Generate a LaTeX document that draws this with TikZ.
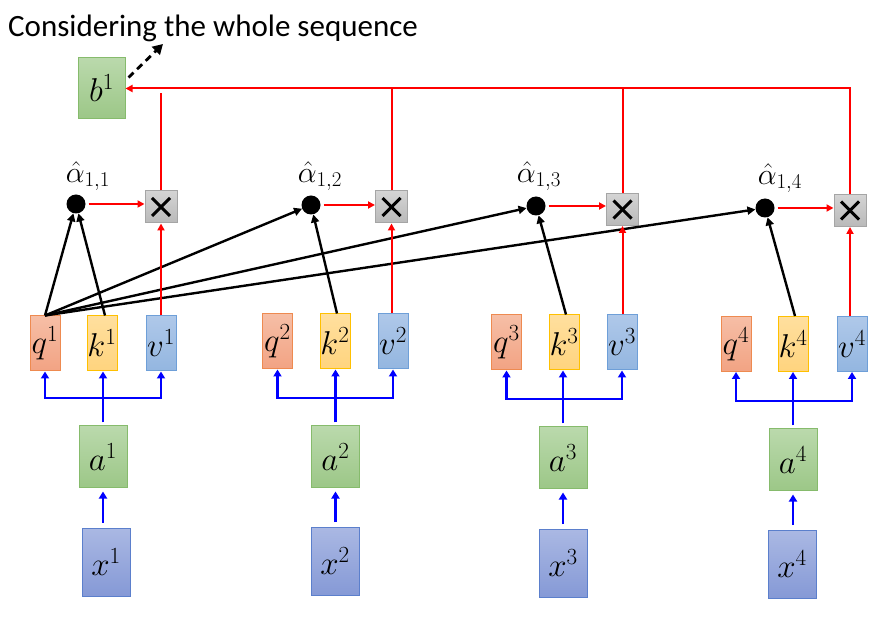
\RequirePackage{fix-cm}
\documentclass[tikz,border=0pt]{standalone}
\usepackage{fontspec}
\newfontfamily\titlefont{Carlito}
\usetikzlibrary{arrows.meta}
\definecolor{qT}{HTML}{F6BEA6}\definecolor{qBt}{HTML}{F2A383}\definecolor{qD}{HTML}{EE8A50}
\definecolor{kT}{HTML}{FFDF9E}\definecolor{kBt}{HTML}{FFD47E}\definecolor{kD}{HTML}{FFC000}
\definecolor{vT}{HTML}{AFC8E9}\definecolor{vBt}{HTML}{93B6E0}\definecolor{vD}{HTML}{6E9FD8}
\definecolor{aT}{HTML}{BAD9AC}\definecolor{aBt}{HTML}{9CC787}\definecolor{aD}{HTML}{86BB6C}
\definecolor{xT}{HTML}{AAB8E3}\definecolor{xBt}{HTML}{8599D6}\definecolor{xD}{HTML}{5B7FCC}
\definecolor{gT}{HTML}{D4D4D4}\definecolor{gBt}{HTML}{B9B9B9}\definecolor{gD}{HTML}{A5A5A5}
\tikzset{
  bx/.style={draw, line width=1pt, inner sep=0pt, font=\fontsize{33}{38}\selectfont},
  qkv/.style={bx, minimum width=30pt, minimum height=55pt},
  qbox/.style={qkv, draw=qD, top color=qT, bottom color=qBt},
  kbox/.style={qkv, draw=kD, top color=kT, bottom color=kBt},
  vbox/.style={qkv, draw=vD, top color=vT, bottom color=vBt},
  abox/.style={bx, minimum width=48pt, minimum height=62pt, draw=aD, top color=aT, bottom color=aBt},
  xbox/.style={bx, minimum width=48pt, minimum height=68pt, draw=xD, top color=xT, bottom color=xBt},
  mulbox/.style={draw=gD, line width=1pt, top color=gT, bottom color=gBt, minimum width=32pt, minimum height=32pt, inner sep=0pt},
  dot/.style={circle, fill=black, inner sep=0pt, minimum size=19pt},
  alab/.style={inner sep=0pt, font=\fontsize{30}{34}\selectfont},
  bluearr/.style={draw=blue, line width=2.6pt, -{Triangle[length=7pt,width=8pt]}},
  blueln/.style={draw=blue, line width=2.6pt},
  redarr/.style={draw=red, line width=2pt, -{Triangle[length=7pt,width=7pt]}},
  redln/.style={draw=red, line width=2pt},
  blkarr/.style={draw=black, line width=2.4pt, -{Triangle[length=8pt,width=8pt]}},
}
\newcommand{\mulx}[1]{%
  \draw[line width=3pt] ([shift={(-9,-9)}]#1.center) -- ([shift={(9,9)}]#1.center);
  \draw[line width=3pt] ([shift={(-9,9)}]#1.center) -- ([shift={(9,-9)}]#1.center);}
\begin{document}
\begin{tikzpicture}[x=1pt,y=-1pt]
\useasboundingbox (0,0) rectangle (892,617);
% title
\node[anchor=base west, inner sep=0pt, font=\titlefont\fontsize{31}{35}\selectfont] (title) at (8,37) {Considering the whole sequence};
% b1
\node[abox, minimum width=47pt, minimum height=61pt] (b1) at (101.5,88.5) {$b^1$};
\coordinate (dashend) at (163,44);
\draw[dashed, line width=2.8pt, dash pattern=on 7pt off 5pt, -{Triangle[length=10pt,width=11pt]}] ([shift={(3,-11)}]b1.east) -- (dashend);
% columns
\foreach \i/\qx/\kx/\vx/\qy/\ax/\ay/\xx/\xy in {
  1/45/102/161/343.5/103/457/106/562,
  2/277.5/335/393/341.5/335.5/457/335/561.5,
  3/506.5/564/622/342.5/563/458/563/563.5,
  4/736/793/852/344/793/460/792/564.5}{
  \node[qbox] (q\i) at (\qx,\qy) {$q^{\i}$};
  \node[kbox] (k\i) at (\kx,\qy) {$k^{\i}$};
  \node[vbox] (v\i) at (\vx,\qy) {$v^{\i}$};
  \node[abox] (a\i) at (\ax,\ay) {$a^{\i}$};
  \node[xbox] (x\i) at (\xx,\xy) {$x^{\i}$};
  \draw[blueln] ([yshift=3pt]a\i.north) -- ([yshift=27.5pt]a\i.north) coordinate (j\i);
  \draw[bluearr] (j\i) -| (q\i.south);
  \draw[bluearr] (j\i) -| (v\i.south);
  \draw[bluearr] (j\i) -- (k\i.south -| j\i);
  \draw[bluearr, shorten <=5pt, shorten >=3pt] (x\i.north -| a\i.south) -- (a\i.south);
}
% dots and multiply boxes
\node[dot] (d1) at (76,204) {};
\node[dot] (d2) at (311,205) {};
\node[dot] (d3) at (536,206) {};
\node[dot] (d4) at (765,208) {};
\node[alab] (l1) at (88,176) {$\hat{\alpha}_{1,1}$};
\node[alab] (l2) at (320,176) {$\hat{\alpha}_{1,2}$};
\node[alab] (l3) at (539,176) {$\hat{\alpha}_{1,3}$};
\node[alab] (l4) at (780,178) {$\hat{\alpha}_{1,4}$};
\node[mulbox] (m1) at (161,207) {};
\node[mulbox] (m2) at (391.5,207) {};
\node[mulbox] (m3) at (622.5,209.5) {};
\node[mulbox] (m4) at (850,210.5) {};
\foreach \i in {1,2,3,4}{\mulx{m\i}}
% black arrows
\foreach \i in {1,2,3,4}{\draw[blkarr] (q1.north) -- (d\i);}
\draw[blkarr] ([xshift=3pt]k1.north) -- (d1);
\foreach \i in {2,3,4}{\draw[blkarr] ([xshift=2pt]k\i.north) -- (d\i);}
% red arrows
\foreach \i in {1,2,3,4}{
  \draw[redarr] (v\i.north -| m\i.south) -- (m\i.south);
  \draw[redarr, shorten <=3pt] (d\i.east) -- (m\i.west |- d\i.east);
}
\draw[redarr] (m4.north) |- (b1.east);
\draw[redln] (m3.north) -- (m3.north |- b1.east);
\draw[redln] (m2.north) -- (m2.north |- b1.east);
\draw[redln] (m1.north) -- ([yshift=-4.5pt]m1.north |- b1.east);
\end{tikzpicture}
\end{document}
